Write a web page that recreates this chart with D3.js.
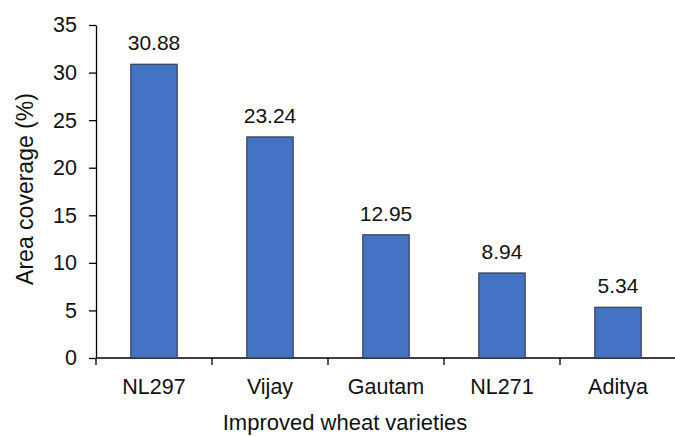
<!DOCTYPE html>
<meta charset="utf-8">
<head>
<style>
body {
  margin: 0;
  background: #fff;
  font-family: 'Liberation Sans', Arial, Helvetica, sans-serif;
}

.bar {
  fill: #4472c4;
  stroke: #2b2f3a;
  stroke-width: 1;
}

.axis text {
  font-size: 21.5px;
  fill: #111;
}

.axis path,
.axis line {
  fill: none;
  stroke: #000;
  stroke-width: 1.3;
}

.label {
  font-size: 21px;
  fill: #111;
  text-anchor: middle;
}

.title {
  font-size: 22px;
  fill: #111;
  text-anchor: middle;
}
</style>
</head>

<body>
<div id="chart"></div>

<script src="https://d3js.org/d3.v7.min.js"></script>
<script>

var varieties = ["NL297", "Vijay", "Gautam", "NL271", "Aditya"];
var coverage = [30.88, 23.24, 12.95, 8.94, 5.34];
var yTicks = [0, 5, 10, 15, 20, 25, 30, 35];

var margin = {top: 25, right: 0, bottom: 78, left: 96};

var x = d3.scaleBand()
    .domain(varieties)
    .range([0, 580])
    .paddingInner(0.6)
    .paddingOuter(0.3);

var y = d3.scaleLinear()
    .domain([0, 35])
    .range([333, 0]);

var svg = d3.select("#chart").append("svg")
    .attr("width", 675)
    .attr("height", 436)
  .append("g")
    .attr("transform", "translate(" + margin.left + "," + margin.top + ")");

// y axis
var yAxis = d3.axisLeft(y)
    .tickValues(yTicks)
    .tickSizeInner(7)
    .tickSizeOuter(0)
    .tickPadding(12);

svg.append("g")
    .attr("class", "y axis")
    .call(yAxis);

// x axis, tick marks sit between the categories
var bounds = d3.range(varieties.length + 1).map(function(i) { return i * 580 / varieties.length; });

var xg = svg.append("g")
    .attr("class", "x axis")
    .attr("transform", "translate(0," + y(0) + ")");

xg.append("path")
    .attr("d", "M0,0H580");

xg.selectAll(".tickmark")
    .data(bounds)
  .enter().append("line")
    .attr("x1", function(d) { return d; })
    .attr("x2", function(d) { return d; })
    .attr("y1", 0)
    .attr("y2", 7);

xg.selectAll(".cat")
    .data(varieties)
  .enter().append("text")
    .attr("x", function(d) { return x(d) + x.bandwidth() / 2; })
    .attr("y", 36)
    .attr("text-anchor", "middle")
    .text(function(d) { return d; });

// bars
svg.selectAll(".bar")
    .data(varieties)
  .enter().append("rect")
    .attr("class", "bar")
    .attr("x", function(d) { return x(d); })
    .attr("width", x.bandwidth())
    .attr("y", function(d, i) { return y(coverage[i]); })
    .attr("height", function(d, i) { return y(0) - y(coverage[i]); });

svg.selectAll(".label")
    .data(varieties)
  .enter().append("text")
    .attr("class", "label")
    .attr("x", function(d) { return x(d) + x.bandwidth() / 2; })
    .attr("y", function(d, i) { return y(coverage[i]) - 14; })
    .text(function(d, i) { return coverage[i].toFixed(2); });

// axis titles
svg.append("text")
    .attr("class", "title")
    .attr("x", 249)
    .attr("y", 405)
    .text("Improved wheat varieties");

svg.append("text")
    .attr("class", "title")
    .style("font-size", "23px")
    .attr("transform", "translate(-63," + 164 + ") rotate(-90)")
    .text("Area coverage (%)");

</script>
</body>
